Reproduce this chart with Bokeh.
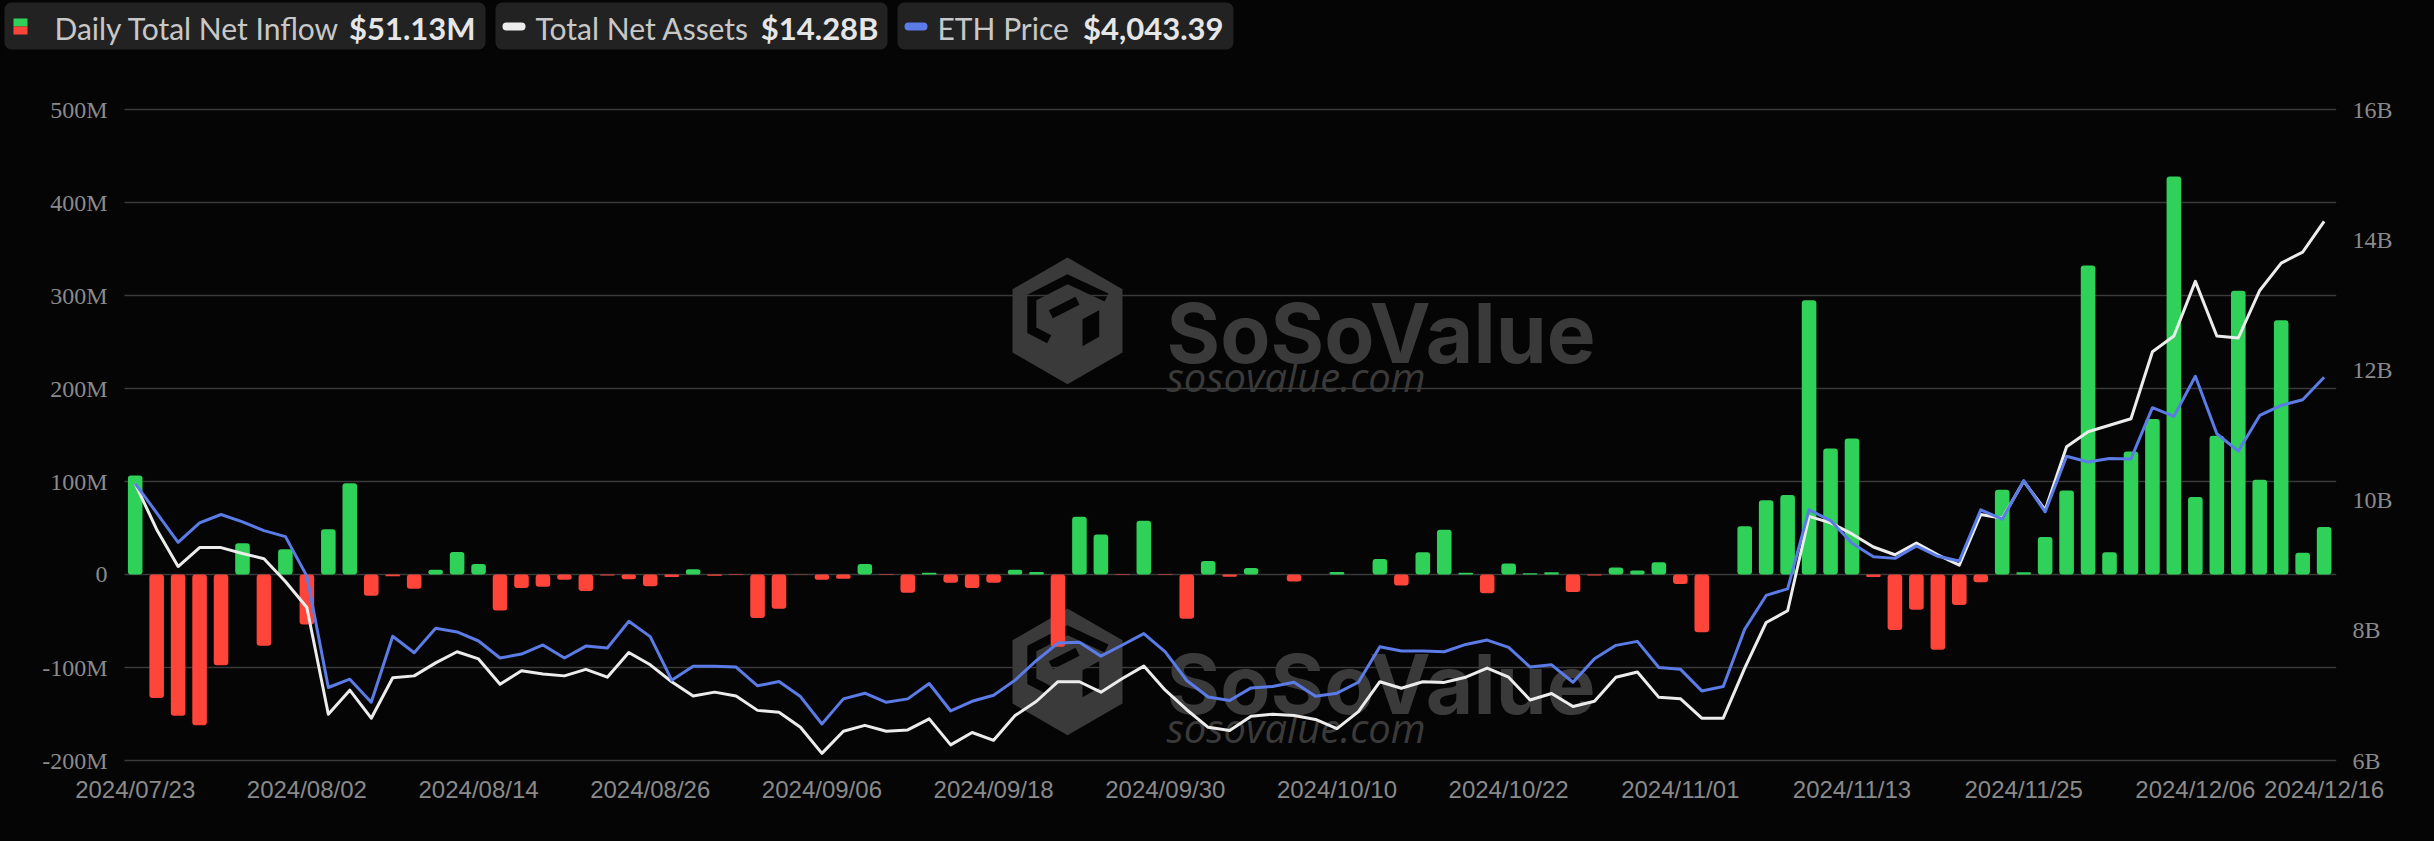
from bokeh.plotting import figure
from bokeh.models import Range1d, LinearAxis, FixedTicker, ColumnDataSource
from bokeh.embed import file_html
from bokeh.resources import INLINE
from bokeh.core.properties import value

# ---------------- data ----------------
dates = [
    "2024/07/23", "2024/07/24", "2024/07/25", "2024/07/26", "2024/07/29", "2024/07/30", "2024/07/31",
    "2024/08/01", "2024/08/02", "2024/08/05", "2024/08/06", "2024/08/07", "2024/08/08", "2024/08/09",
    "2024/08/12", "2024/08/13", "2024/08/14", "2024/08/15", "2024/08/16", "2024/08/19", "2024/08/20",
    "2024/08/21", "2024/08/22", "2024/08/23", "2024/08/26", "2024/08/27", "2024/08/28", "2024/08/29",
    "2024/08/30", "2024/09/03", "2024/09/04", "2024/09/05", "2024/09/06", "2024/09/09", "2024/09/10",
    "2024/09/11", "2024/09/12", "2024/09/13", "2024/09/16", "2024/09/17", "2024/09/18", "2024/09/19",
    "2024/09/20", "2024/09/23", "2024/09/24", "2024/09/25", "2024/09/26", "2024/09/27", "2024/09/30",
    "2024/10/01", "2024/10/02", "2024/10/03", "2024/10/04", "2024/10/07", "2024/10/08", "2024/10/09",
    "2024/10/10", "2024/10/11", "2024/10/14", "2024/10/15", "2024/10/16", "2024/10/17", "2024/10/18",
    "2024/10/21", "2024/10/22", "2024/10/23", "2024/10/24", "2024/10/25", "2024/10/28", "2024/10/29",
    "2024/10/30", "2024/10/31", "2024/11/01", "2024/11/04", "2024/11/05", "2024/11/06", "2024/11/07",
    "2024/11/08", "2024/11/11", "2024/11/12", "2024/11/13", "2024/11/14", "2024/11/15", "2024/11/18",
    "2024/11/19", "2024/11/20", "2024/11/21", "2024/11/22", "2024/11/25", "2024/11/26", "2024/11/27",
    "2024/11/29", "2024/12/02", "2024/12/03", "2024/12/04", "2024/12/05", "2024/12/06", "2024/12/09",
    "2024/12/10", "2024/12/11", "2024/12/12", "2024/12/13", "2024/12/16",
]

# Daily total net inflow, million USD
inflow_m = [
    106.5, -132.7, -151.9, -162.1, -97.7, 33.6, -76.6, 27.1, -53.7, 48.6,
    98.1, -22.9, -2.0, -15.4, 5.0, 24.3, 11.2, -38.8, -14.5, -13.1,
    -5.6, -17.8, -1.0, -5.1, -12.6, -2.8, 5.6, -1.4, -0.5, -46.7,
    -36.9, -0.3, -5.6, -4.7, 11.2, -0.5, -19.6, 1.9, -8.9, -14.5,
    -8.9, 5.1, 2.8, -77.6, 62.1, 43.0, -0.5, 57.9, -0.5, -47.7,
    14.5, -2.3, 7.0, 0.0, -7.5, 0.0, 2.8, 0.0, 16.8, -11.7,
    23.8, 48.1, 1.9, -20.1, 11.7, 1.4, 2.3, -18.7, -1.0, 7.5,
    4.2, 13.1, -10.3, -62.1, 0.0, 51.9, 79.9, 85.5, 294.9, 135.5,
    146.3, -2.8, -59.8, -37.9, -80.8, -32.7, -8.4, 91.1, 2.3, 40.2,
    90.2, 332.2, 23.8, 132.2, 167.3, 428.0, 83.2, 149.1, 305.1, 101.9,
    273.4, 23.4, 51.1,
]

# Total net assets, billion USD
net_assets_b = [
    10.25, 9.55, 8.98, 9.27, 9.27, 9.18, 9.10, 8.75, 8.35, 6.71,
    7.08, 6.65, 7.27, 7.30, 7.50, 7.67, 7.56, 7.17, 7.38, 7.33,
    7.30, 7.40, 7.28, 7.66, 7.47, 7.21, 6.99, 7.05, 6.99, 6.77,
    6.74, 6.51, 6.11, 6.45, 6.54, 6.45, 6.47, 6.64, 6.24, 6.43,
    6.31, 6.69, 6.91, 7.21, 7.21, 7.05, 7.26, 7.45, 7.08, 6.78,
    6.51, 6.46, 6.68, 6.71, 6.69, 6.63, 6.49, 6.75, 7.21, 7.11,
    7.21, 7.20, 7.28, 7.42, 7.28, 6.93, 7.03, 6.83, 6.91, 7.28,
    7.36, 6.97, 6.95, 6.65, 6.65, 7.42, 8.12, 8.30, 9.75, 9.65,
    9.48, 9.28, 9.16, 9.34, 9.16, 9.00, 9.78, 9.72, 10.29, 9.85,
    10.82, 11.05, 11.15, 11.25, 12.28, 12.52, 13.36, 12.52, 12.49, 13.22,
    13.64, 13.81, 14.28,
]

# ETH price, USD
eth_price = [
    3480, 3326, 3170, 3273, 3317, 3278, 3232, 3200, 2991, 2402,
    2446, 2324, 2673, 2586, 2715, 2696, 2648, 2558, 2579, 2627,
    2558, 2621, 2611, 2752, 2671, 2441, 2515, 2515, 2510, 2411,
    2434, 2354, 2209, 2342, 2372, 2324, 2342, 2423, 2278, 2329,
    2361, 2441, 2545, 2637, 2641, 2568, 2627, 2687, 2591, 2439,
    2352, 2333, 2400, 2407, 2430, 2356, 2372, 2430, 2618, 2595,
    2595, 2591, 2630, 2653, 2614, 2510, 2522, 2430, 2554, 2625,
    2646, 2508, 2499, 2384, 2407, 2710, 2889, 2924, 3342, 3285,
    3165, 3094, 3085, 3151, 3096, 3071, 3342, 3292, 3496, 3331,
    3625, 3595, 3613, 3611, 3882, 3836, 4048, 3744, 3652, 3841,
    3894, 3924, 4043,
]

left_ticks = [-200, -100, 0, 100, 200, 300, 400, 500]
left_labels = ["-200M", "-100M", "0", "100M", "200M", "300M", "400M", "500M"]
right_ticks = [6, 8, 10, 12, 14, 16]
right_labels = ["6B", "8B", "10B", "12B", "14B", "16B"]
x_tick_idx = [0, 8, 16, 24, 32, 40, 48, 56, 64, 72, 80, 88, 96, 102]

legend_names = ["Daily Total Net Inflow", "Total Net Assets", "ETH Price"]
legend_values = ["$51.13M", "$14.28B", "$4,043.39"]

# ---------------- style ----------------
BG = "#050505"
BOX = "#222222"
GREEN = "#30d158"
RED = "#ff453a"
WHITE_LINE = "#ececec"
BLUE_LINE = "#5b7be6"
GRID = "#3a3a3a"
AXIS_TXT = "#8a8a8a"
WM = "#3a3a3a"

# ---------------- geometry (page pixels) ----------------
W, H = 2418, 825
MR, MB = 82, 51                      # right / bottom borders for the axes
FR_L, FR_T = 8, 8                    # frame spans the canvas from its top-left
FR_R, FR_B = 8 + W - MR, 8 + H - MB  # 2344, 782
PLOT_L, PLOT_T, PLOT_B = 132, 117, 768   # plot area (grid) edges
STEP = 21.46                         # px per trading day
X0_PAGE = 142.7                      # page x of first bar

x_start = -(X0_PAGE - FR_L) / STEP
x_end = x_start + (FR_R - FR_L) / STEP


def y_ext(lo, hi):
    """Range whose [lo, hi] fills the plot area, extended to the whole frame."""
    per_px = (hi - lo) / (PLOT_B - PLOT_T)
    return Range1d(lo - (FR_B - PLOT_B) * per_px, hi + (PLOT_T - FR_T) * per_px)


p = figure(width=W, height=H, x_range=Range1d(x_start, x_end), y_range=y_ext(-200, 500),
           output_backend="svg", toolbar_location=None, tools="",
           x_axis_location="below", y_axis_location=None,
           min_border_left=0, min_border_top=0, min_border_right=MR, min_border_bottom=MB,
           background_fill_color=BG, border_fill_color=BG, outline_line_color=None)
p.grid.visible = False
p.extra_y_ranges = {"assets": y_ext(6, 16), "eth": y_ext(2016, 5459),
                    "px": Range1d(FR_B, FR_T)}
p.extra_x_ranges = {"px": Range1d(FR_L, FR_R)}

PX = dict(x_range_name="px", y_range_name="px")

# ---------------- header legend (page px) ----------------
p.quad(left=[12, 503, 905], right=[493, 895, 1241], top=[10, 10, 10], bottom=[57, 57, 57],
       fill_color=BOX, line_color=None, border_radius=7, **PX)
p.quad(left=[21], right=[35], top=[26], bottom=[34], fill_color=GREEN, line_color=None, **PX)
p.quad(left=[21], right=[35], top=[34], bottom=[42], fill_color=RED, line_color=None, **PX)
p.quad(left=[510, 912], right=[533, 935], top=[30, 30], bottom=[38, 38],
       fill_color=[WHITE_LINE, BLUE_LINE], line_color=None, border_radius=4, **PX)
p.text(x=[62, 543, 945], y=[35, 35, 35], text=legend_names,
       text_font=value("Lato"), text_font_size="30px", text_color="#c8c8c8",
       text_baseline="middle", text_align="left", **PX)
p.text(x=[483, 886, 1231], y=[35, 35, 35], text=legend_values,
       text_font=value("Lato"), text_font_size="31px", text_font_style="bold",
       text_color="#e6e6e6", text_baseline="middle", text_align="right", **PX)

# ---------------- watermark (page px) ----------------
HEX = [(195, 30), (360, 125), (360, 315), (195, 410), (30, 315), (30, 125)]
CUT_LINES = [
    [(312, 150), (195, 95), (88, 150), (88, 248), (140, 275)],
    [(145, 200), (225, 160)],
]
CUT_POLY = [(240, 215), (290, 188), (290, 268), (240, 296)]

for off in (0, 351):
    def tx(zx):
        return 1010 + zx / 3.0

    def ty(zy):
        return 255 + zy / 3.0 + off

    p.patch([tx(a) for a, b in HEX], [ty(b) for a, b in HEX], fill_color=WM, line_color=None, **PX)
    p.multi_line([[tx(a) for a, b in s] for s in CUT_LINES],
                 [[ty(b) for a, b in s] for s in CUT_LINES],
                 line_color=BG, line_width=9, line_join="miter", **PX)
    p.patch([tx(a) for a, b in CUT_POLY], [ty(b) for a, b in CUT_POLY],
            fill_color=BG, line_color=None, **PX)
    p.text(x=[1174], y=[341 + off], text=["SoSoValue"], text_font=value("Inter"),
           text_font_style="bold", text_font_size="82px", text_color=WM,
           text_baseline="alphabetic", **PX)
    p.text(x=[1174], y=[384 + off], text=["sosovalue.com"], text_font=value("Open Sans"),
           text_font_style="italic", text_font_size="40px", text_color=WM,
           text_baseline="alphabetic", **PX)

# ---------------- grid + left tick labels ----------------
x_left_edge = x_start + (PLOT_L - FR_L) / STEP
n_t = len(left_ticks)
p.segment(x0=[x_left_edge] * n_t, x1=[x_end] * n_t, y0=left_ticks, y1=left_ticks,
          line_color=GRID, line_width=1.5)
p.text(x=[PLOT_L - 17] * n_t, y=left_ticks, text=left_labels,
       x_range_name="px", text_font=value("Liberation Serif"), text_font_size="24px",
       text_color=AXIS_TXT, text_align="right", text_baseline="middle")

# ---------------- data marks ----------------
idx = list(range(len(dates)))
src = ColumnDataSource(dict(
    x=idx, inflow=inflow_m, assets=net_assets_b, eth=eth_price,
    color=[GREEN if v >= 0 else RED for v in inflow_m],
))

p.vbar(x="x", top="inflow", bottom=0, width=0.68, fill_color="color", line_color=None,
       border_radius=3, source=src)
p.line(x="x", y="assets", y_range_name="assets", line_color=WHITE_LINE, line_width=3,
       line_join="round", source=src)
p.line(x="x", y="eth", y_range_name="eth", line_color=BLUE_LINE, line_width=3,
       line_join="round", source=src)


# ---------------- axes ----------------
def style_axis(ax, font, size):
    ax.axis_line_color = None
    ax.major_tick_line_color = None
    ax.minor_tick_line_color = None
    ax.major_tick_in = 0
    ax.major_tick_out = 0
    ax.major_label_text_font = font
    ax.major_label_text_font_size = size
    ax.major_label_text_color = AXIS_TXT


xa = p.xaxis[0]
xa.ticker = FixedTicker(ticks=x_tick_idx)
xa.major_label_overrides = {i: dates[i] for i in x_tick_idx}
style_axis(xa, "Liberation Sans", "24px")
xa.major_label_standoff = 1

ra = LinearAxis(y_range_name="assets", ticker=FixedTicker(ticks=right_ticks),
                major_label_overrides={t: l for t, l in zip(right_ticks, right_labels)})
style_axis(ra, "Liberation Serif", "24px")
ra.major_label_standoff = 16
p.add_layout(ra, "right")

html = file_html(p, INLINE)
html = html.replace("</head>", "<style>html,body{background:%s;}</style></head>" % BG, 1)
open("out.html", "w").write(html)
